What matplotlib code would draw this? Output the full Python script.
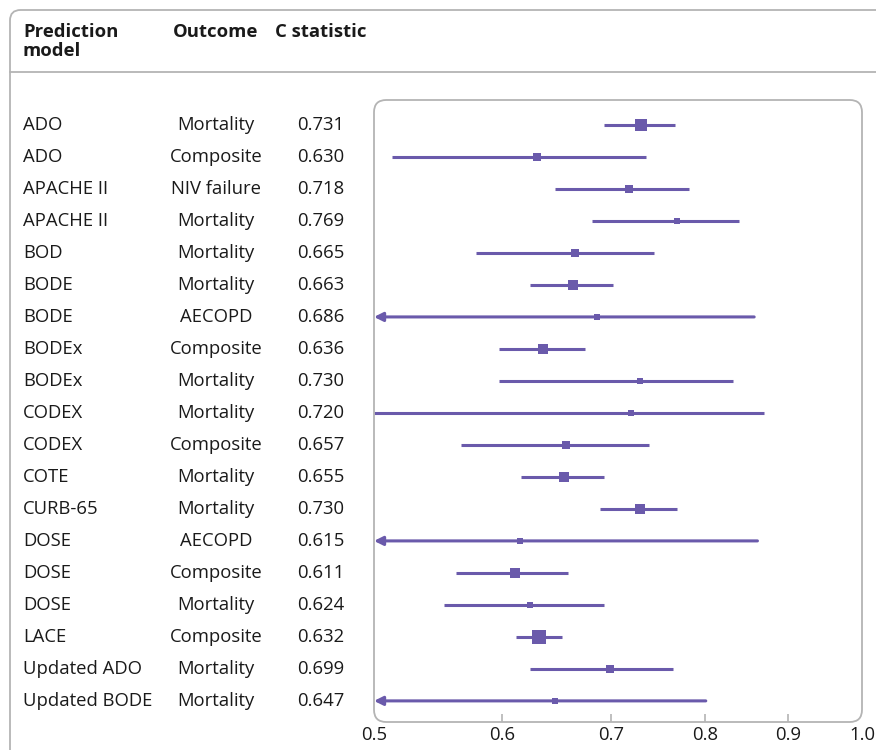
import numpy as np
import matplotlib.pyplot as plt
import matplotlib.transforms as mtransforms
from matplotlib.patches import FancyBboxPatch
from matplotlib.lines import Line2D
from matplotlib.ticker import FixedLocator, NullLocator

# Data
models = ["ADO", "ADO", "APACHE II", "APACHE II", "BOD", "BODE", "BODE",
          "BODEx", "BODEx", "CODEX", "CODEX", "COTE", "CURB-65", "DOSE",
          "DOSE", "DOSE", "LACE", "Updated ADO", "Updated BODE"]
outcomes = ["Mortality", "Composite", "NIV failure", "Mortality", "Mortality",
            "Mortality", "AECOPD", "Composite", "Mortality", "Mortality",
            "Composite", "Mortality", "Mortality", "AECOPD", "Composite",
            "Mortality", "Composite", "Mortality", "Mortality"]
c_stat = [0.731, 0.630, 0.718, 0.769, 0.665, 0.663, 0.686, 0.636, 0.730,
          0.720, 0.657, 0.655, 0.730, 0.615, 0.611, 0.624, 0.632, 0.699, 0.647]
# None = lower limit below 0.5 (drawn as an arrow)
ci_low = [0.693, 0.513, 0.647, 0.681, 0.578, 0.624, None, 0.597, 0.597,
          0.500, 0.566, 0.616, 0.689, None, 0.562, 0.552, 0.612, 0.624, None]
ci_high = [0.767, 0.736, 0.782, 0.840, 0.744, 0.702, 0.858, 0.675, 0.833,
           0.870, 0.739, 0.693, 0.769, 0.862, 0.659, 0.693, 0.653, 0.765, 0.801]
# relative study weight (box width, px)
weight = [10.7, 7.0, 7.5, 6.7, 7.5, 8.7, 5.3, 9.7, 6.3, 5.3, 7.0, 9.3, 9.7,
          5.0, 9.0, 6.7, 13.7, 7.0, 5.7]
xticks = [0.5, 0.6, 0.7, 0.8, 0.9, 1.0]
xtick_labels = ["0.5", "0.6", "0.7", "0.8", "0.9", "1.0"]

purple = "#6a5aab"
grey = "#b4b4b4"
ink = "#1a1a1a"
fs = 13.3

W, H = 876, 750
plt.rcParams['font.family'] = ['Open Sans', 'DejaVu Sans']
fig = plt.figure(figsize=(W / 100, H / 100), dpi=100)


def fx(px):
    return px / W


def fy(py):
    return 1 - py / H


# outer frame and header rule
frame = FancyBboxPatch((fx(10), fy(800)), fx(900) - fx(10), (800 - 10) / H,
                       boxstyle="round,pad=0,rounding_size=0.012",
                       mutation_aspect=W / H, transform=fig.transFigure,
                       fill=False, ec=grey, lw=1.3)
fig.add_artist(frame)
fig.add_artist(Line2D([fx(10), 1], [fy(72), fy(72)], transform=fig.transFigure,
                      color=grey, lw=1.3))

# plot area
ax = fig.add_axes([fx(374), fy(722), fx(862) - fx(374), (722 - 100) / H])
ax.set_xscale('log')
ax.set_xlim(0.5, 1.0)
n = len(models)
ax.set_ylim(n - 1 + 0.66, -0.78)
for s in ax.spines.values():
    s.set_visible(False)
ax.set_yticks([])
ax.xaxis.set_major_locator(FixedLocator(xticks))
ax.xaxis.set_minor_locator(NullLocator())
ax.set_xticklabels(xtick_labels)
ax.tick_params(axis='x', direction='in', length=6, width=1.2, color=grey,
               labelsize=fs, labelcolor=ink, pad=3)
for t in ax.xaxis.get_major_ticks():
    if t.get_loc() in (0.5, 1.0):
        t.tick1line.set_visible(False)

box = FancyBboxPatch((fx(374), fy(722)), fx(862) - fx(374), (722 - 100) / H,
                     boxstyle="round,pad=0,rounding_size=0.014",
                     mutation_aspect=W / H, transform=fig.transFigure,
                     fill=False, ec=grey, lw=1.3)
fig.add_artist(box)

for i in range(n):
    if ci_low[i] is None:
        ax.annotate('', xy=(0.5, i), xytext=(ci_high[i], i),
                    arrowprops=dict(arrowstyle='-|>', color=purple, lw=2.2,
                                    shrinkA=0, shrinkB=0, mutation_scale=13))
    else:
        ax.plot([ci_low[i], ci_high[i]], [i, i], color=purple, lw=2.2,
                solid_capstyle='butt')
    ax.plot(c_stat[i], i, marker='s', ms=weight[i] * 0.75, color=purple,
            mec=purple, mew=0)

# table columns
tr = mtransforms.blended_transform_factory(fig.transFigure, ax.transData)
for i in range(n):
    ax.text(fx(23), i, models[i], transform=tr, ha='left', va='center',
            fontsize=fs, color=ink)
    ax.text(fx(216), i, outcomes[i], transform=tr, ha='center', va='center',
            fontsize=fs, color=ink)
    ax.text(fx(297), i, f"{c_stat[i]:.3f}", transform=tr, ha='left',
            va='center', fontsize=fs, color=ink)

fig.text(fx(23), fy(23), "Prediction\nmodel", ha='left', va='top',
         fontsize=fs, fontweight='bold', color=ink, linespacing=1.1)
fig.text(fx(173), fy(23), "Outcome", ha='left', va='top', fontsize=fs,
         fontweight='bold', color=ink)
fig.text(fx(275), fy(23), "C statistic", ha='left', va='top', fontsize=fs,
         fontweight='bold', color=ink)

fig.savefig("out.png", dpi=100)
